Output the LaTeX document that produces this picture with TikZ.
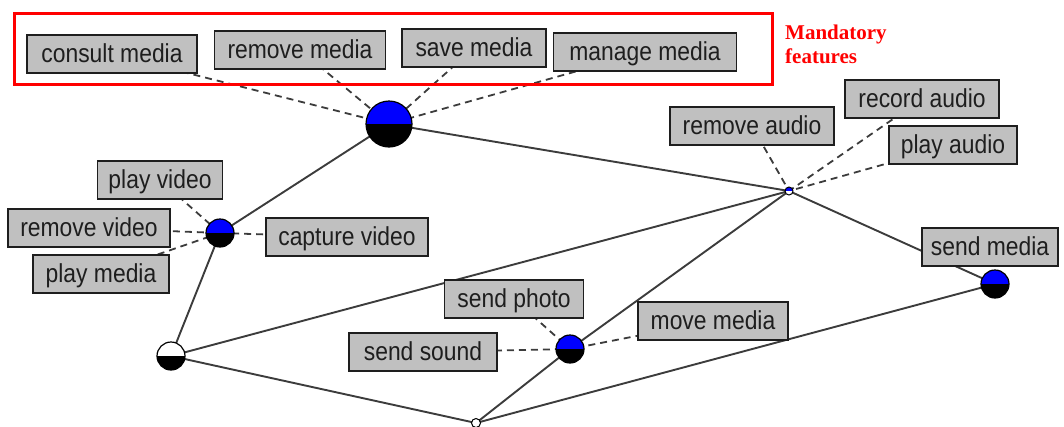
\documentclass[tikz,border=0pt]{standalone}
\usepackage{fontspec}
\newfontfamily\boxfont[FakeStretch=0.88]{Liberation Sans}
\newfontfamily\notefont{Liberation Serif}
\pgfdeclarelayer{bg}
\pgfsetlayers{bg,main}
\definecolor{boxgray}{HTML}{C0C0C0}
\definecolor{edgegray}{HTML}{3C3C3C}
\definecolor{txt}{HTML}{1E1E1E}
\definecolor{mandred}{HTML}{FF0000}
\definecolor{nodeblue}{HTML}{0000FF}
\begin{document}
\begin{tikzpicture}[x=1pt,y=-1pt,
  lbl/.style={draw=txt, line width=1.4pt, fill=boxgray, text=txt,
    font=\boxfont\fontsize{26}{28}\selectfont, minimum height=38pt,
    inner sep=0pt, text height=20pt, text depth=4pt},
  half/.style 2 args={circle, draw=black, line width=1.2pt, inner sep=0pt,
    path picture={
      \fill[#1] (path picture bounding box.north west) rectangle (path picture bounding box.east);
      \fill[#2] (path picture bounding box.west) rectangle (path picture bounding box.south east);}},
  edge/.style={draw=edgegray, line width=1.9pt},
  tie/.style={draw=edgegray, line width=1.8pt, dash pattern=on 7pt off 5pt},
  note/.style={anchor=base west, text=mandred, inner sep=0pt,
    font=\notefont\bfseries\fontsize{21}{24}\selectfont}
]
\useasboundingbox (0,0) rectangle (1064,426);

% mandatory frame
\node[draw=mandred, line width=3pt, minimum width=758pt, minimum height=71pt, inner sep=0pt] (mandbox) at (393,48.5) {};
\node[note] (mt1) at (785,39) {Mandatory};
\node[note] (mt2) at (785,63) {features};

% feature nodes
\node[half={nodeblue}{black}, minimum size=46pt] (media) at (389,124) {};
\node[half={nodeblue}{black}, minimum size=28pt] (video) at (220,233) {};
\node[half={white}{black}, minimum size=28pt] (root) at (171,356) {};
\node[half={nodeblue}{white}, minimum size=8pt, line width=1pt] (audio) at (789,191) {};
\node[half={nodeblue}{black}, minimum size=28pt] (send) at (570,349) {};
\node[half={nodeblue}{black}, minimum size=28pt] (sendm) at (995,284) {};
\node[half={white}{white}, minimum size=9pt, line width=1pt] (bottom) at (476,423) {};

% labels
\node[lbl, minimum width=170pt] (consult) at (112,54) {consult media};
\node[lbl, minimum width=171pt] (remmed) at (300,50) {remove media};
\node[lbl, minimum width=144pt] (save) at (474,48) {save media};
\node[lbl, minimum width=183pt] (manage) at (645,52) {manage media};
\node[lbl, minimum width=164pt] (remaud) at (752,126) {remove audio};
\node[lbl, minimum width=154pt] (recaud) at (922,99) {record audio};
\node[lbl, minimum width=128pt] (playaud) at (953,145) {play audio};
\node[lbl, minimum width=136pt] (sendmed) at (990,247) {send media};
\node[lbl, minimum width=125pt] (playvid) at (160,180) {play video};
\node[lbl, minimum width=162pt] (remvid) at (89,228) {remove video};
\node[lbl, minimum width=136pt] (playmed) at (101,274) {play media};
\node[lbl, minimum width=162pt] (capvid) at (347,237) {capture video};
\node[lbl, minimum width=139pt] (sendph) at (514,299) {send photo};
\node[lbl, minimum width=150pt] (movemed) at (713,321) {move media};
\node[lbl, minimum width=148pt] (sendsnd) at (423,352) {send sound};

\begin{pgfonlayer}{bg}
  \draw[edge] (media.center) -- (video.center);
  \draw[edge] (media.center) -- (audio.center);
  \draw[edge] (video.center) -- (root.center);
  \draw[edge] (root.center) -- (audio.center);
  \draw[edge] (root.center) -- (bottom.center);
  \draw[edge] (bottom.center) -- (send.center);
  \draw[edge] (send.center) -- (audio.center);
  \draw[edge] (bottom.center) -- (sendm.center);
  \draw[edge] (audio.center) -- (sendm.center);

  \draw[tie] (consult.center) -- (media.center);
  \draw[tie] (remmed.center) -- (media.center);
  \draw[tie] (save.center) -- (media.center);
  \draw[tie] (manage.center) -- (media.center);
  \draw[tie] (remaud.center) -- (audio.center);
  \draw[tie] (recaud.center) -- (audio.center);
  \draw[tie] (playaud.center) -- (audio.center);
  \draw[tie] (sendmed.center) -- (sendm.center);
  \draw[tie] (playvid.center) -- (video.center);
  \draw[tie] (remvid.center) -- (video.center);
  \draw[tie] (playmed.center) -- (video.center);
  \draw[tie] (capvid.center) -- (video.center);
  \draw[tie] (sendph.center) -- (send.center);
  \draw[tie] (movemed.center) -- (send.center);
  \draw[tie] (sendsnd.center) -- (send.center);
\end{pgfonlayer}
\end{tikzpicture}
\end{document}
